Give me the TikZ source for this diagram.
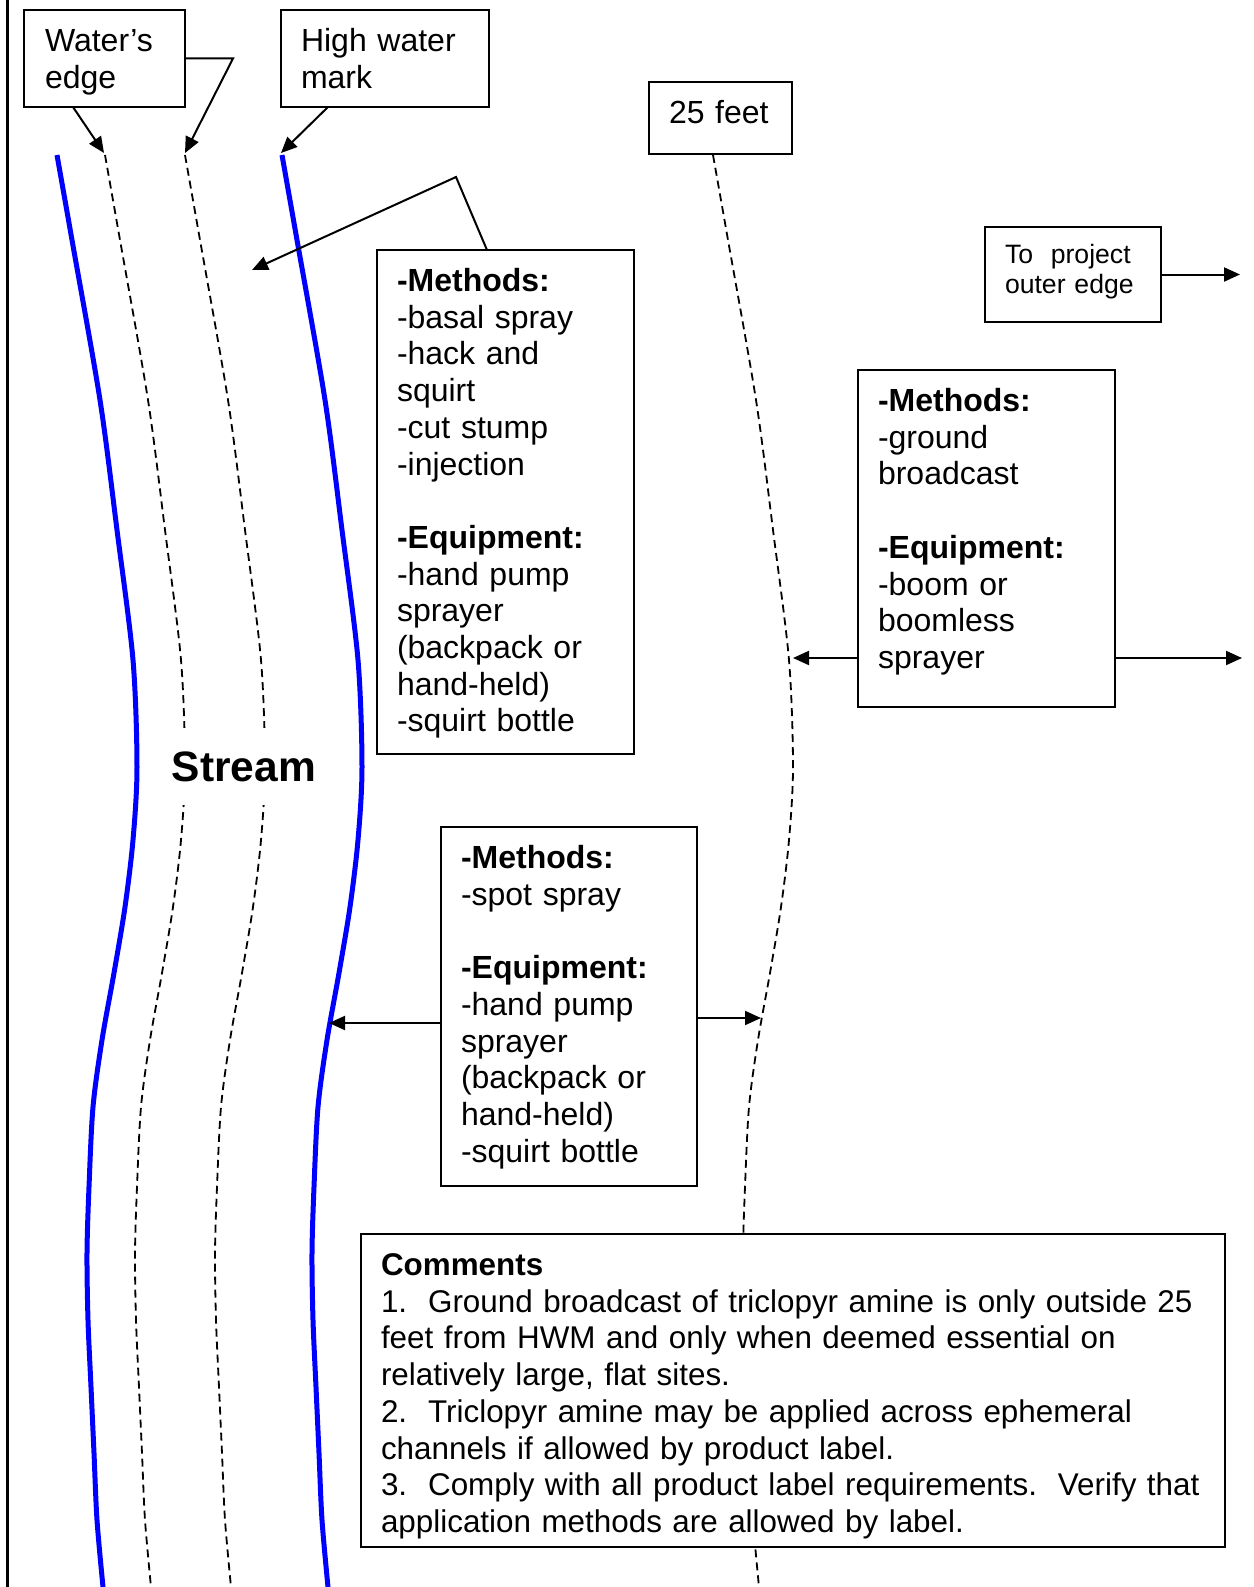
\documentclass[tikz,border=0pt]{standalone}
\usepackage{fontspec}
\setmainfont{Liberation Sans}
\usetikzlibrary{arrows.meta}
\setlength{\parindent}{0pt}
\newcommand{\fs}{\rule{0pt}{30pt}}
\newcommand{\fss}{\rule{0pt}{25pt}}
\begin{document}
\begin{tikzpicture}[x=1pt,y=-1pt,
  box/.style={draw, line width=2pt, fill=white, anchor=north west, inner sep=0pt, outer sep=0pt},
  txt/.style={anchor=north west, inner sep=0pt, outer sep=0pt, align=left, font=\fontsize{32}{36.7}\selectfont},
  smalltxt/.style={anchor=north west, inner sep=0pt, outer sep=0pt, align=left, font=\fontsize{26.6}{30.6}\selectfont},
  arr/.style={line width=2pt, -{Triangle[length=16pt,width=14pt]}},
  bank/.style={blue, line width=5pt},
  dashline/.style={black, line width=1.8pt, dash pattern=on 8pt off 5pt}]
\useasboundingbox (0,0) rectangle (1253,1587);

% left border
\draw[line width=2.5pt] (7.5,0) -- (7.5,1587);

% stream banks and offset lines (same shape, shifted)
\foreach \dx/\sty in {0/bank, 225/bank, 48/dashline, 128/dashline, 656/dashline}{
  \draw[\sty, xshift=\dx] plot[smooth] coordinates {(57,155) (72,240) (100,400) (117,530) (133,660) (137,767) (133,840) (125,907) (114,973) (102,1040) (93,1107) (89,1187) (87,1253) (88,1320) (91,1387) (94,1453) (97,1520) (103,1587)};
}

% Stream label (breaks the dashed lines)
\node[fill=white, inner xsep=3pt, inner ysep=0pt, minimum height=77pt,
      font=\bfseries\fontsize{42.5}{48}\selectfont] (stream) at (244,766.5) {Stream};

% boxes
\node[box, minimum width=161pt, minimum height=97pt] (WE) at (24,10) {};
\node[box, minimum width=208pt, minimum height=97pt] (HW) at (281,10) {};
\node[box, minimum width=143pt, minimum height=72pt] (FT) at (649,82) {};
\node[box, minimum width=176pt, minimum height=95pt] (TP) at (985,227) {};
\node[box, minimum width=257pt, minimum height=504pt] (A) at (377,250) {};
\node[box, minimum width=257pt, minimum height=337pt] (B) at (858,370) {};
\node[box, minimum width=256pt, minimum height=359pt] (C) at (441,827) {};
\node[box, minimum width=864pt, minimum height=313pt] (CM) at (361,1234) {};

% texts
\node[txt, text width=130pt] (WEt) at (45,21.5) {\fs Water’s\\edge};
\node[txt, text width=180pt] (HWt) at (301,21.5) {\fs High water\\mark};
\node[txt, text width=120pt] (FTt) at (669,93.5) {\fs 25 feet};
\node[smalltxt, text width=150pt] (TPt) at (1005,238) {\fss To\ \ project\\outer edge};
\node[txt, text width=225pt] (At) at (397,261.5) {\fs\textbf{-Methods:}\\
-basal spray\\
-hack and\\
squirt\\
-cut stump\\
-injection\\[36.7pt]
\textbf{-Equipment:}\\
-hand pump\\
sprayer\\
(backpack or\\
hand-held)\\
-squirt bottle};
\node[txt, text width=225pt] (Bt) at (878,381.5) {\fs\textbf{-Methods:}\\
-ground\\
broadcast\\[36.7pt]
\textbf{-Equipment:}\\
-boom or\\
boomless\\
sprayer};
\node[txt, text width=225pt] (Ct) at (461,838.5) {\fs\textbf{-Methods:}\\
-spot spray\\[36.7pt]
\textbf{-Equipment:}\\
-hand pump\\
sprayer\\
(backpack or\\
hand-held)\\
-squirt bottle};
\node[txt, text width=835pt, font=\fontsize{31.4}{36.7}\selectfont] (CMt) at (381,1245.5) {\fs\textbf{Comments}\\
1.\ \ Ground broadcast of triclopyr amine is only outside 25\\
feet from HWM and only when deemed essential on\\
relatively large, flat sites.\\
2.\ \ Triclopyr amine may be applied across ephemeral\\
channels if allowed by product label.\\
3.\ \ Comply with all product label requirements.\ \ Verify that\\
application methods are allowed by label.};

% arrow targets
\coordinate (t1) at (104,153);
\coordinate (t2) at (185,153);
\coordinate (t3) at (281,153);
\coordinate (t4) at (252,270);
\coordinate (e1) at (233,58.5);
\coordinate (e2) at (456,177);
\coordinate (tB1) at (793,658);
\coordinate (tB2) at (1242,658);
\coordinate (tC1) at (329,1023);
\coordinate (tC2) at (761,1018);
\coordinate (tTP) at (1240,274.5);

% connectors
\draw[arr] ([xshift=49pt]WE.south west) -- (t1);
\draw[arr] (WE.east) -- (e1) -- (t2);
\draw[arr] ([xshift=47pt]HW.south west) -- (t3);
\draw[arr] ([xshift=110pt]A.north west) -- (e2) -- (t4);
\draw[arr] (B.west |- tB1) -- (tB1);
\draw[arr] (B.east |- tB2) -- (tB2);
\draw[arr] (C.west |- tC1) -- (tC1);
\draw[arr] (C.east |- tC2) -- (tC2);
\draw[arr] (TP.east) -- (tTP);
\end{tikzpicture}
\end{document}
